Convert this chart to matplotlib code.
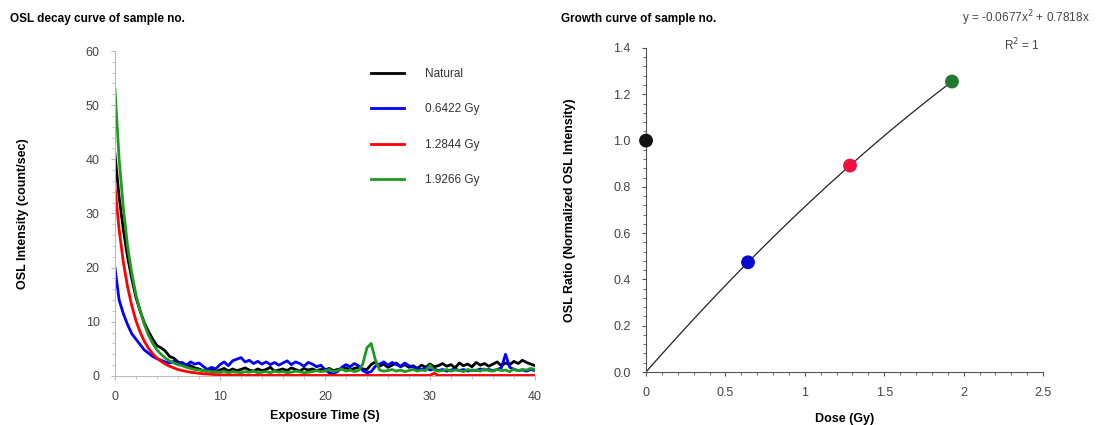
import matplotlib
matplotlib.use("Agg")
import matplotlib.pyplot as plt
from matplotlib.ticker import MultipleLocator, FormatStrFormatter
import numpy as np

plt.rcParams['font.family'] = ['Liberation Sans', 'DejaVu Sans']

# OSL decay readings, one channel every 0.4 s
time_s = np.round(np.arange(0, 40.01, 0.4), 1)

natural = [41, 33, 27, 22, 18, 14.5, 12, 9.8, 8.2, 6.8,
           5.6, 5.2, 4.6, 3.6, 3.3, 2.6, 2.3, 2.0, 1.9, 1.5,
           1.3, 1.0, 0.9, 1.2, 0.8, 1.1, 1.4, 0.9, 1.3, 1.0,
           1.2, 1.5, 1.1, 0.9, 1.3, 1.0, 1.2, 1.6, 0.9, 1.1,
           1.3, 1.0, 1.5, 1.2, 0.9, 1.4, 1.1, 1.3, 1.0, 1.2,
           1.1, 1.4, 1.0, 1.2, 1.3, 1.5, 1.1, 1.4, 1.6, 1.3,
           1.2, 2.1, 2.6, 1.8, 2.2, 1.6, 2.0, 2.4, 1.7, 2.1,
           1.6, 1.9, 1.4, 2.0, 1.6, 2.2, 1.7, 1.9, 2.3, 1.8,
           2.1, 1.5, 2.4, 1.9, 2.2, 1.7, 2.5, 2.0, 2.3, 1.8,
           2.2, 2.6, 1.9, 2.4, 2.1, 2.7, 2.3, 2.9, 2.5, 2.2,
           1.9]

dose_1 = [20, 14, 11.5, 9.5, 7.8, 6.8, 5.8, 4.8, 4.2, 3.6,
          3.2, 2.9, 2.6, 2.4, 2.7, 2.3, 2.5, 2.0, 2.6, 2.2,
          2.4, 1.8, 1.2, 1.6, 1.3, 2.1, 2.6, 1.9, 2.8, 3.1,
          3.4, 2.6, 2.9, 2.3, 2.7, 2.2, 2.6, 2.1, 2.5, 2.0,
          2.4, 2.8, 2.1, 2.6, 2.3, 1.8, 2.5, 2.2, 1.7, 2.0,
          1.2, 0.6, 0.5, 0.8, 1.6, 2.1, 1.7, 2.3, 1.9, 1.0,
          0.6, 0.8, 1.8, 2.2, 2.6, 2.0, 2.5, 2.1, 1.8, 2.4,
          1.9, 1.6, 1.4, 1.2, 1.5, 1.1, 1.3, 1.0, 1.2, 0.9,
          1.1, 1.3, 1.0, 1.2, 0.9, 1.1, 1.0, 1.3, 1.1, 1.2,
          1.0, 1.2, 1.5, 4.0, 1.6, 1.2, 1.0, 1.1, 0.9, 1.2,
          1.0]

dose_2 = [35, 27, 21, 16.5, 13, 10.2, 8.1, 6.4, 5.1, 4.1,
          3.3, 2.7, 2.2, 1.8, 1.5, 1.2, 1.0, 0.85, 0.7, 0.6,
          0.5, 0.42, 0.36, 0.3, 0.26, 0.22, 0.2, 0.18, 0.16, 0.15,
          0.14, 0.13, 0.12, 0.12, 0.11, 0.1, 0.1, 0.12, 0.1, 0.1,
          0.1, 0.11, 0.1, 0.1, 0.12, 0.1, 0.1, 0.1, 0.11, 0.1,
          0.1, 0.1, 0.12, 0.1, 0.1, 0.1, 0.1, 0.11, 0.1, 0.1,
          0.1, 0.12, 0.1, 0.1, 0.1, 0.1, 0.11, 0.1, 0.1, 0.1,
          0.1, 0.1, 0.1, 0.1, 0.1, 0.1, 0.5, 0.1, 0.1, 0.1,
          0.1, 0.1, 0.1, 0.12, 0.1, 0.1, 0.1, 0.1, 0.1, 0.1,
          0.1, 0.1, 0.1, 0.1, 0.1, 0.1, 0.1, 0.1, 0.1, 0.1,
          0.1]

dose_3 = [53, 40, 31, 24, 19, 15, 12, 9.5, 7.5, 6,
          4.8, 4.0, 3.3, 2.8, 2.4, 2.1, 1.9, 1.6, 1.4, 1.2,
          1.1, 1.0, 0.9, 0.8, 0.8, 0.7, 0.9, 0.6, 0.8, 0.7,
          0.6, 0.8, 0.7, 0.9, 0.6, 0.7, 0.8, 0.6, 0.9, 0.7,
          0.8, 0.6, 0.7, 0.9, 0.8, 0.6, 0.7, 0.8, 1.0, 0.8,
          0.9, 1.2, 0.8, 1.0, 1.3, 0.9, 1.1, 0.8, 1.0, 2.2,
          5.2, 6.0, 3.0, 1.1, 0.9, 1.0, 1.2, 0.9, 1.1, 0.8,
          1.0, 1.2, 0.9, 1.1, 1.0, 2.0, 1.1, 0.9, 1.0, 1.2,
          0.9, 1.1, 1.0, 0.8, 1.2, 1.0, 1.1, 0.9, 1.3, 1.0,
          0.9, 1.2, 1.0, 1.1, 0.8, 1.3, 1.0, 1.2, 1.1, 1.4,
          1.2]

labels = ['Natural', '0.6422 Gy', '1.2844 Gy', '1.9266 Gy']
colors = ['#000000', '#0000ff', '#ff0000', '#1f9a1f']

# growth curve points: given dose vs normalized OSL
dose_gy = [0, 0.6422, 1.2844, 1.9266]
osl_ratio = [1.0, 0.474, 0.892, 1.255]
point_colors = ['#111111', '#0a0ad0', '#ee1144', '#1e7a2e']
fit_coef = [-0.0677, 0.7818, 0.0]

tick_col = '#444444'

fig = plt.figure(figsize=(11, 4.25), dpi=100)

# ---- decay curves ----
ax1 = fig.add_axes([0.1045, 0.1153, 0.3818, 0.7647])
for y, lab, c in zip([natural, dose_1, dose_2, dose_3], labels, colors):
    ax1.plot(time_s, y, color=c, lw=2, label=lab, solid_joinstyle='round')

ax1.set_xlim(0, 40)
ax1.set_ylim(0, 60)
ax1.xaxis.set_major_locator(MultipleLocator(10))
ax1.xaxis.set_minor_locator(MultipleLocator(2))
ax1.yaxis.set_major_locator(MultipleLocator(10))
ax1.yaxis.set_minor_locator(MultipleLocator(2))
for s in ['top', 'right']:
    ax1.spines[s].set_visible(False)
for s in ['left', 'bottom']:
    ax1.spines[s].set_color('#bbbbbb')
ax1.tick_params(which='both', colors='#bbbbbb', labelcolor=tick_col,
                labelsize=9, length=3, pad=8)
ax1.tick_params(which='minor', length=2)
ax1.set_xlabel('Exposure Time (S)', fontsize=9, fontweight='bold', labelpad=5)
ax1.set_ylabel('OSL Intensity (count/sec)', fontsize=9, fontweight='bold', labelpad=41)
ax1.legend(loc='upper left', bbox_to_anchor=(0.328, 0.865), bbox_transform=fig.transFigure,
           frameon=False, fontsize=8.5, labelspacing=1.98, handlelength=2.8,
           handletextpad=1.7, labelcolor='#333333')
fig.text(0.009, 0.955, 'OSL decay curve of sample no.', fontsize=8.5,
         fontweight='bold', va='center')

# ---- growth curve ----
ax2 = fig.add_axes([0.5873, 0.1247, 0.3609, 0.7624])
xf = np.linspace(0, dose_gy[-1], 100)
ax2.plot(xf, np.polyval(fit_coef, xf), color='#222222', lw=0.9, zorder=2)
ax2.scatter(dose_gy, osl_ratio, s=80, c=point_colors, zorder=3, clip_on=False)

ax2.set_xlim(0, 2.5)
ax2.set_ylim(0, 1.4)
ax2.xaxis.set_minor_locator(MultipleLocator(0.1))
ax2.yaxis.set_major_locator(MultipleLocator(0.2))
ax2.yaxis.set_minor_locator(MultipleLocator(0.04))
ax2.set_xticks([0, 0.5, 1, 1.5, 2, 2.5])
ax2.set_xticklabels(['0', '0.5', '1', '1.5', '2', '2.5'])
ax2.yaxis.set_major_formatter(FormatStrFormatter('%.1f'))
for s in ['top', 'right']:
    ax2.spines[s].set_visible(False)
for s in ['left', 'bottom']:
    ax2.spines[s].set_color('#555555')
ax2.tick_params(which='both', colors='#555555', labelcolor=tick_col,
                labelsize=9, length=3, pad=8)
ax2.tick_params(which='minor', length=2)
ax2.set_xlabel('Dose (Gy)', fontsize=9, fontweight='bold', labelpad=10)
ax2.set_ylabel('OSL Ratio (Normalized OSL Intensity)', fontsize=9,
               fontweight='bold', labelpad=27)
fig.text(0.51, 0.955, 'Growth curve of sample no.', fontsize=8.5,
         fontweight='bold', va='center')
fig.text(0.991, 0.958, 'y = -0.0677x$^2$ + 0.7818x', fontsize=8.5,
         color='#444444', ha='right', va='center')
fig.text(0.929, 0.894, 'R$^2$ = 1', fontsize=8.5, color='#444444',
         ha='center', va='center')

fig.savefig('out.png', dpi=100)
